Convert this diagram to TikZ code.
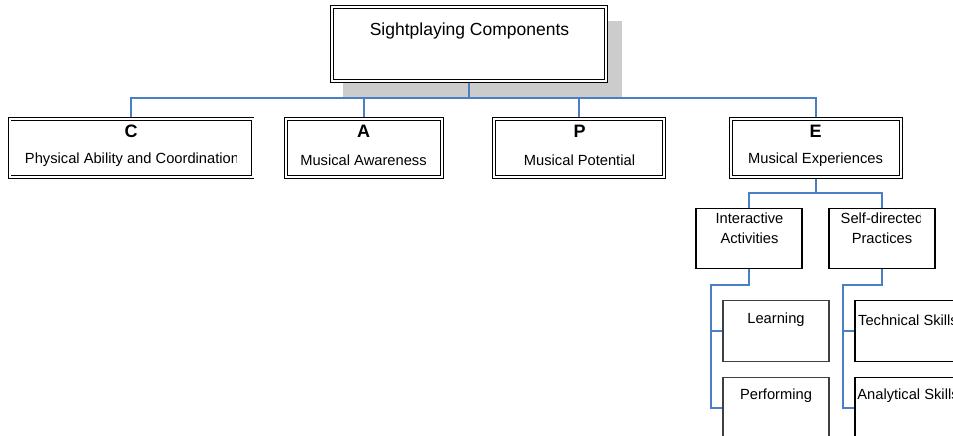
\documentclass[tikz,border=0pt]{standalone}
\usepackage{fontspec}
\setmainfont{Liberation Sans}
\definecolor{connblue}{RGB}{74,126,197}
\definecolor{shadowgray}{RGB}{204,204,204}
\definecolor{leafgray}{RGB}{64,64,64}
\begin{document}
\begin{tikzpicture}[x=1pt,y=-1pt,
  dbox/.style={draw=black,double=white,double distance=2pt,line width=0.9pt,fill=white,rectangle,inner sep=0pt},
  midbox/.style={draw=black,line width=1.6pt,fill=white,rectangle,inner sep=0pt,minimum width=106pt,minimum height=60pt},
  leafbox/.style={draw=leafgray,line width=1.2pt,fill=white,rectangle,inner sep=0pt,minimum width=106pt,minimum height=61pt},
  leafboxk/.style={draw=black,line width=1.2pt,fill=white,rectangle,inner sep=0pt,minimum width=106pt,minimum height=61pt},
  conn/.style={draw=connblue,line width=1.4pt},
  roottxt/.style={font=\fontsize{17.5}{20}\selectfont,inner sep=0pt},
  lettertxt/.style={font=\fontsize{18}{20}\selectfont\bfseries,inner sep=0pt},
  subtxt/.style={font=\fontsize{14.7}{17}\selectfont,inner sep=0pt},
  smalltxt/.style={font=\fontsize{14.7}{17}\selectfont,inner sep=0pt}
]
\useasboundingbox (0,0) rectangle (953,436);
\clip (0,0) rectangle (953,436);
\fill[white] (0,0) rectangle (953,436);

% shadow of root
\fill[shadowgray] (343,21) rectangle (622,98);

% coordinates for buses
\coordinate (bus) at (469,98);
\coordinate (ebus) at (816,193);
\coordinate (ib) at (711,285);
\coordinate (sb) at (843,285);

% boxes (positions)
\path node[dbox,minimum width=274.5pt,minimum height=74pt] (root) at (469,44.4) {};
\path node[dbox,minimum width=243pt,minimum height=58pt] (c) at (131,147.8) {};
\path node[dbox,minimum width=156pt,minimum height=58pt] (a) at (364,147.8) {};
\path node[dbox,minimum width=170pt,minimum height=58pt] (p) at (579,147.8) {};
\path node[dbox,minimum width=170pt,minimum height=58pt] (e) at (816,147.8) {};

\path node[midbox] (ia) at (749,238.5) {};
\path node[midbox] (sd) at (882,238.5) {};

\path node[leafbox] (learn) at (776,331) {};
\path node[leafbox] (perf) at (776,408) {};
\path node[leafboxk] (tech) at (908,331) {};
\path node[leafboxk] (anal) at (908,408) {};

% connectors
\draw[conn] (root.south) -- (bus);
\draw[conn] (c.north) |- (bus) -| (e.north);
\draw[conn] (a.north) -- (a.north |- bus);
\draw[conn] (p.north) -- (p.north |- bus);
\draw[conn] (e.south) -- (ebus);
\draw[conn] (ia.north) |- (ebus) -| (sd.north);
\draw[conn] (ia.south) |- (ib) |- (perf.west);
\draw[conn] (ib |- learn.west) -- (learn.west);
\draw[conn] (sd.south) |- (sb) |- (anal.west);
\draw[conn] (sb |- tech.west) -- (tech.west);

% boxes drawn on top of connectors
\node[dbox,minimum width=274.5pt,minimum height=74pt] (rootb) at (root.center) {};
\node[dbox,minimum width=243pt,minimum height=58pt] (cb) at (c.center) {};
\node[dbox,minimum width=156pt,minimum height=58pt] (ab) at (a.center) {};
\node[dbox,minimum width=170pt,minimum height=58pt] (pb) at (p.center) {};
\node[dbox,minimum width=170pt,minimum height=58pt] (eb) at (e.center) {};
\node[midbox] (iab) at (ia.center) {};
\node[midbox] (sdb) at (sd.center) {};
\node[leafbox] (learnb) at (learn.center) {};
\node[leafbox] (perfb) at (perf.center) {};
\node[leafboxk] (techb) at (tech.center) {};
\node[leafboxk] (analb) at (anal.center) {};

% texts
\node[roottxt] (rt) at (469.5,31) {Sightplaying Components};

\node[lettertxt] (ct1) at (131,131) {C};
\begin{scope}
\clip (10,118) rectangle (236,177);
\node[subtxt] (ct2) at (132,160) {Physical Ability and Coordination};
\end{scope}
\node[lettertxt] (at1) at (363.5,131) {A};
\node[subtxt] (at2) at (363.5,160) {Musical Awareness};
\node[lettertxt] (pt1) at (579.5,131) {P};
\node[subtxt] (pt2) at (579.5,160) {Musical Potential};
\node[lettertxt] (et1) at (815.5,131) {E};
\node[subtxt] (et2) at (815.5,160) {Musical Experiences};

\node[smalltxt] (iat1) at (749.5,218) {Interactive};
\node[smalltxt] (iat2) at (749.5,238) {Activities};
\begin{scope}
\clip (830,209) rectangle (920,268);
\node[smalltxt] (sdt1) at (882,218) {Self-directed};
\node[smalltxt] (sdt2) at (882,238) {Practices};
\end{scope}

\node[smalltxt] (lt) at (776,320) {Learning};
\node[smalltxt] (pft) at (776,396) {Performing};
\node[smalltxt] (tt) at (908,320) {Technical Skills};
\node[smalltxt] (ant) at (908,396) {Analytical Skills};
\end{tikzpicture}
\end{document}
